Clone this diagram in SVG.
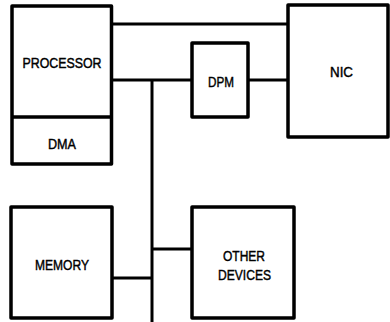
<svg xmlns="http://www.w3.org/2000/svg" width="390" height="322" viewBox="0 0 390 322">
<style>
.box{fill:#fff;stroke:#000;stroke-width:3.5;stroke-linejoin:round}
.ln{fill:none;stroke:#000;stroke-width:3}
text{font-family:"Liberation Sans",Arial,sans-serif;font-size:15.5px;fill:#000;stroke:#000;stroke-width:0.45;text-anchor:middle;}
</style>
<rect width="390" height="322" fill="#fff"/>
<g id="connectors">
<line class="ln" x1="111" y1="24" x2="288" y2="24"/>
<line class="ln" x1="111" y1="80" x2="192" y2="80"/>
<line class="ln" x1="248" y1="80" x2="288" y2="80"/>
<line class="ln" x1="152" y1="80" x2="152" y2="322"/>
<line class="ln" x1="111" y1="278" x2="152" y2="278"/>
<line class="ln" x1="152" y1="249" x2="192" y2="249"/>
</g>
<g id="processor">
<rect class="box" x="12" y="6" width="99.5" height="158"/>
<line class="ln" x1="12" y1="117" x2="111" y2="117" style="stroke-width:3.5"/>
<text x="62" y="68" textLength="79" lengthAdjust="spacingAndGlyphs">PROCESSOR</text>
</g>
<g id="dma">
<text x="62" y="149" textLength="28" lengthAdjust="spacingAndGlyphs">DMA</text>
</g>
<g id="dpm">
<rect class="box" x="192" y="43" width="56" height="74"/>
<text x="221" y="87" textLength="26" lengthAdjust="spacingAndGlyphs">DPM</text>
</g>
<g id="nic">
<rect class="box" x="288" y="5" width="100" height="132"/>
<text x="341.5" y="77" textLength="23" lengthAdjust="spacingAndGlyphs">NIC</text>
</g>
<g id="memory">
<rect class="box" x="11" y="207" width="101" height="111"/>
<text x="62" y="270" textLength="54" lengthAdjust="spacingAndGlyphs">MEMORY</text>
</g>
<g id="other">
<rect class="box" x="192" y="207" width="102" height="111"/>
<text x="244" y="261" textLength="42" lengthAdjust="spacingAndGlyphs">OTHER</text>
<text x="244.5" y="280" textLength="53" lengthAdjust="spacingAndGlyphs">DEVICES</text>
</g>
</svg>
